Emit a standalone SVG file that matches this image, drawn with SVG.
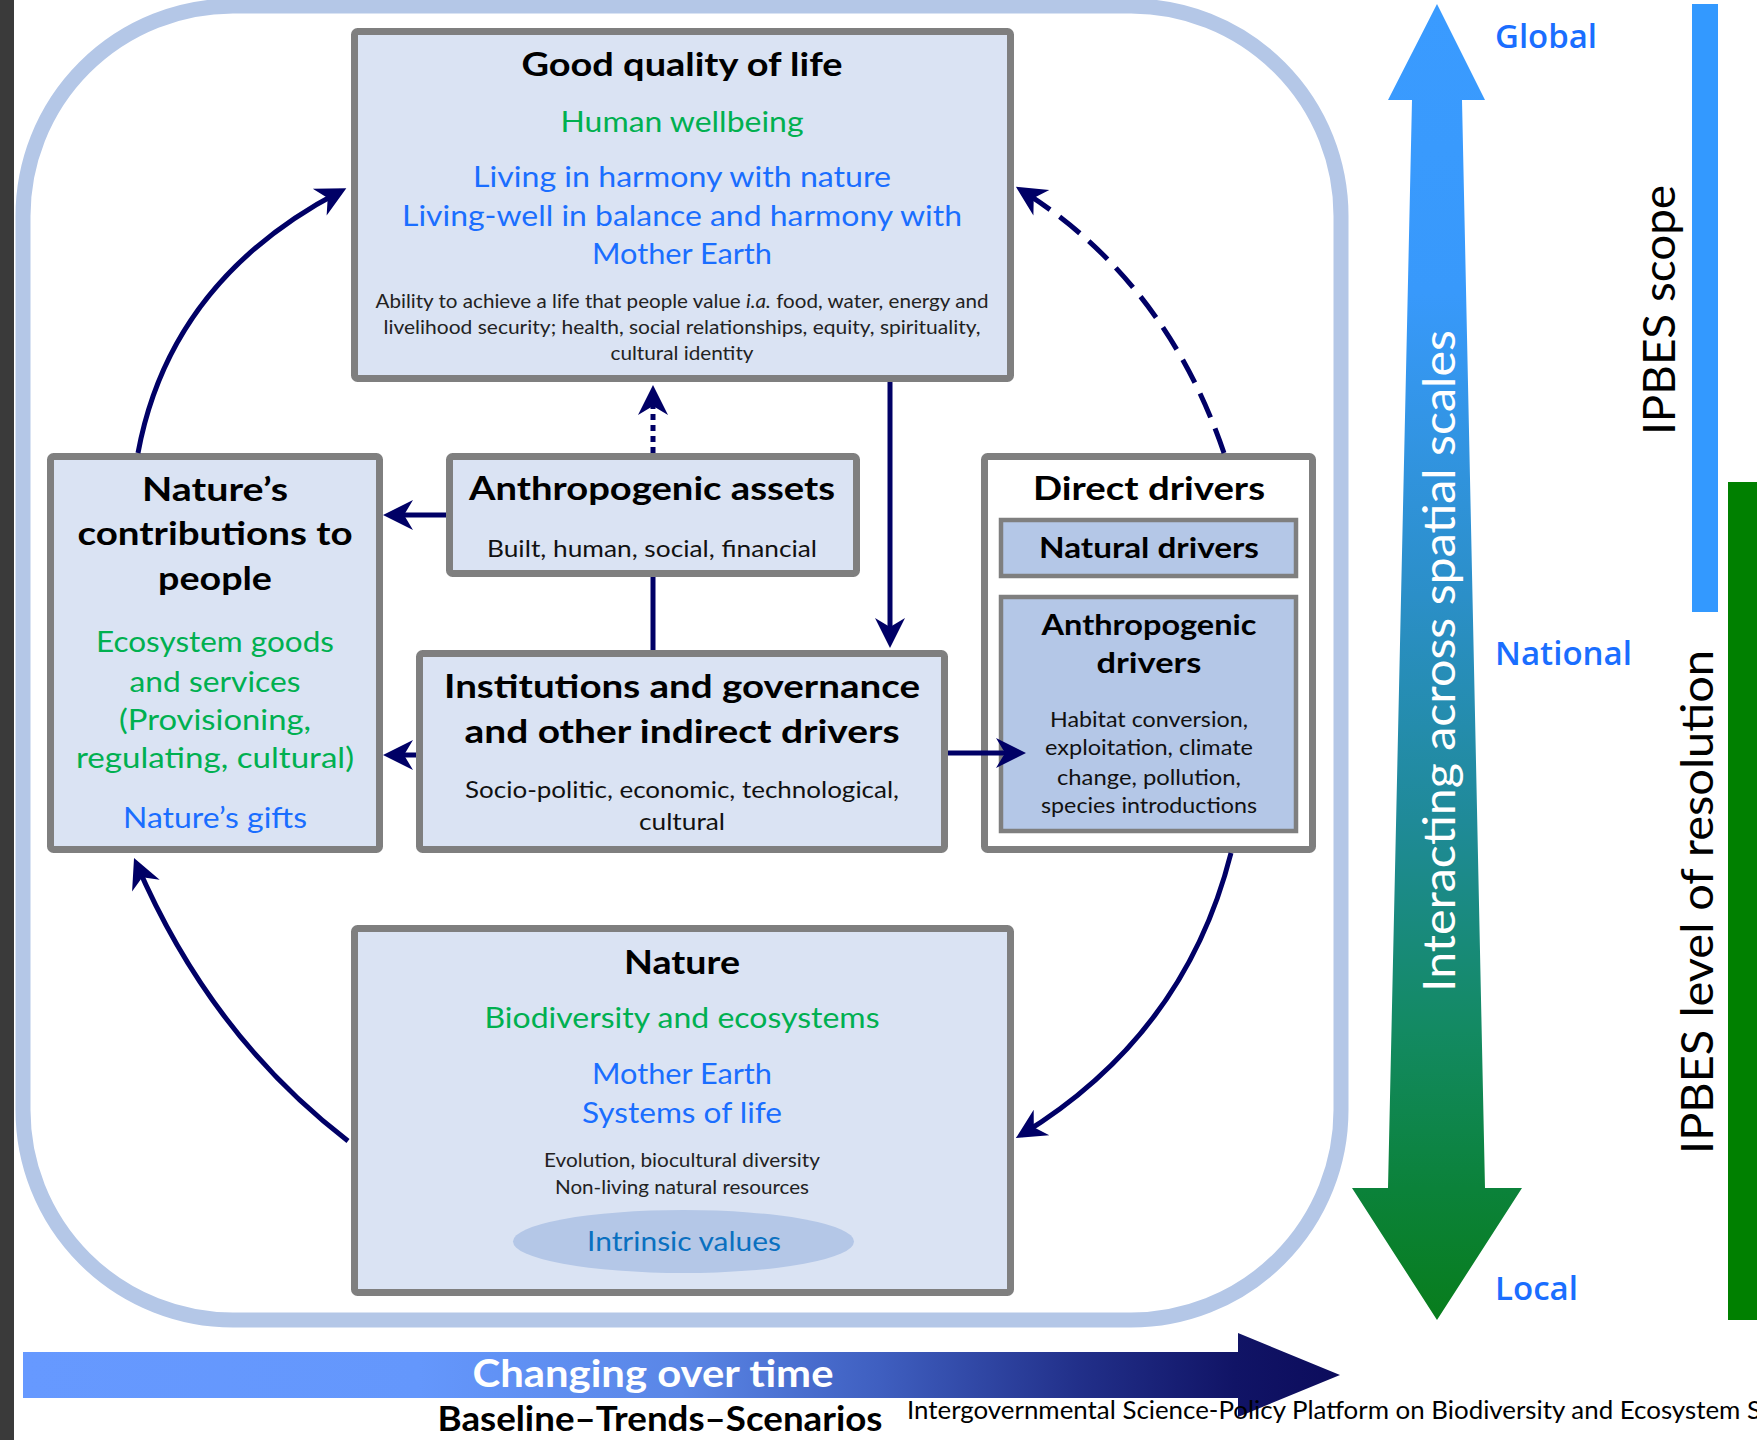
<svg xmlns="http://www.w3.org/2000/svg" width="1757" height="1440" viewBox="0 0 1757 1440">
<style>
text{font-family:Lato,"Open Sans","Liberation Sans",sans-serif;text-anchor:middle}
.box{fill:#dae3f3;stroke:#7f7f7f;stroke-width:7}
.inner{fill:#b4c7e7;stroke:#7f7f7f;stroke-width:4.5}
.t{font-weight:700;font-size:33px;fill:#000}
.t2{font-weight:700;font-size:28px;fill:#000}
.g{font-size:28px;fill:#00b050}
.b{font-size:28px;fill:#1a6eff}
.s{font-size:19px;fill:#222}
.m{font-size:24px;fill:#111}
.d{font-size:21px;fill:#111}
.con{fill:none;stroke:#000066;stroke-width:5}
.scale{font-family:"Open Sans",Lato,sans-serif;font-weight:600;font-size:32px;fill:#1a6eff;text-anchor:start}
.vt{font-size:44px}
</style>
<defs>
<linearGradient id="vg" x1="0" y1="0" x2="0" y2="1">
<stop offset="0" stop-color="#3a9bff"/>
<stop offset="0.22" stop-color="#3899fb"/>
<stop offset="0.45" stop-color="#2b8fc8"/>
<stop offset="0.62" stop-color="#1f8a98"/>
<stop offset="0.78" stop-color="#138a62"/>
<stop offset="0.9" stop-color="#0b823a"/>
<stop offset="1" stop-color="#087d1c"/>
</linearGradient>
<linearGradient id="hg" x1="0" y1="0" x2="1" y2="0">
<stop offset="0" stop-color="#6699ff"/>
<stop offset="0.3" stop-color="#6497fc"/>
<stop offset="0.5" stop-color="#5a86e6"/>
<stop offset="0.65" stop-color="#3f5fc0"/>
<stop offset="0.8" stop-color="#22308a"/>
<stop offset="0.92" stop-color="#111466"/>
<stop offset="1" stop-color="#0c0c5c"/>
</linearGradient>
<marker id="ah" markerUnits="userSpaceOnUse" markerWidth="40" markerHeight="40" viewBox="-30 -20 40 40" refX="0" refY="0" orient="auto" overflow="visible">
<path d="M6,0 L-24,-15 L-15,0 L-24,15 Z" fill="#000066" stroke="none"/>
</marker>
</defs>

<rect x="0" y="0" width="1757" height="1440" fill="#ffffff"/>
<rect x="0" y="0" width="14" height="1440" fill="#3a3a3a"/>
<rect id="frame" x="23" y="6" width="1318" height="1314" rx="210" ry="210" fill="none" stroke="#b4c7e7" stroke-width="15"/>

<g id="node-quality">
<rect class="box" x="354.5" y="31.5" width="656" height="347" rx="3"/>
<text class="t" x="682" y="76" textLength="321" lengthAdjust="spacingAndGlyphs">Good quality of life</text>
<text class="g" x="682" y="132" textLength="243" lengthAdjust="spacingAndGlyphs">Human wellbeing</text>
<text class="b" x="682" y="187" textLength="418" lengthAdjust="spacingAndGlyphs">Living in harmony with nature</text>
<text class="b" x="682" y="226" textLength="560" lengthAdjust="spacingAndGlyphs">Living-well in balance and harmony with</text>
<text class="b" x="682" y="264" textLength="180" lengthAdjust="spacingAndGlyphs">Mother Earth</text>
<text class="s" x="682" y="308" textLength="613" lengthAdjust="spacingAndGlyphs">Ability to achieve a life that people value <tspan font-style="italic">i.a.</tspan> food, water, energy and</text>
<text class="s" x="682" y="334" textLength="597" lengthAdjust="spacingAndGlyphs">livelihood security; health, social relationships, equity, spirituality,</text>
<text class="s" x="682" y="360" textLength="143" lengthAdjust="spacingAndGlyphs">cultural identity</text>
</g>

<g id="node-ncp">
<rect class="box" x="50.5" y="456.5" width="329" height="393" rx="3"/>
<text class="t" x="215" y="501" textLength="146" lengthAdjust="spacingAndGlyphs">Nature’s</text>
<text class="t" x="215" y="545" textLength="275" lengthAdjust="spacingAndGlyphs">contributions to</text>
<text class="t" x="215" y="590" textLength="114" lengthAdjust="spacingAndGlyphs">people</text>
<text class="g" x="215" y="652" textLength="238" lengthAdjust="spacingAndGlyphs">Ecosystem goods</text>
<text class="g" x="215" y="692" textLength="171" lengthAdjust="spacingAndGlyphs">and services</text>
<text class="g" x="215" y="730" textLength="192" lengthAdjust="spacingAndGlyphs">(Provisioning,</text>
<text class="g" x="215" y="768" textLength="278" lengthAdjust="spacingAndGlyphs">regulating, cultural)</text>
<text class="b" x="215" y="828" textLength="184" lengthAdjust="spacingAndGlyphs">Nature’s gifts</text>
</g>

<g id="node-assets">
<rect class="box" x="449.5" y="456.5" width="407" height="117" rx="3"/>
<text class="t" x="652" y="500" textLength="366" lengthAdjust="spacingAndGlyphs">Anthropogenic assets</text>
<text class="m" x="652" y="557" textLength="330" lengthAdjust="spacingAndGlyphs">Built, human, social, financial</text>
</g>

<g id="node-institutions">
<rect class="box" x="419.5" y="653.5" width="525" height="196" rx="3"/>
<text class="t" x="682" y="698" textLength="476" lengthAdjust="spacingAndGlyphs">Institutions and governance</text>
<text class="t" x="682" y="743" textLength="435" lengthAdjust="spacingAndGlyphs">and other indirect drivers</text>
<text class="m" x="682" y="798" textLength="434" lengthAdjust="spacingAndGlyphs">Socio-politic, economic, technological,</text>
<text class="m" x="682" y="830" textLength="86" lengthAdjust="spacingAndGlyphs">cultural</text>
</g>

<g id="node-direct">
<rect x="984.5" y="456.5" width="328" height="393" rx="3" fill="#ffffff" stroke="#7f7f7f" stroke-width="7"/>
<text class="t" x="1149" y="500" textLength="232" lengthAdjust="spacingAndGlyphs">Direct drivers</text>
<g id="node-natural">
<rect class="inner" x="1001" y="520" width="295" height="56"/>
<text class="t2" x="1149" y="558" textLength="220" lengthAdjust="spacingAndGlyphs">Natural drivers</text>
</g>
<g id="node-anthdrivers">
<rect class="inner" x="1001" y="597" width="295" height="234"/>
<text class="t2" x="1149" y="635" textLength="215" lengthAdjust="spacingAndGlyphs">Anthropogenic</text>
<text class="t2" x="1149" y="673" textLength="105" lengthAdjust="spacingAndGlyphs">drivers</text>
<text class="d" x="1149" y="727" textLength="198" lengthAdjust="spacingAndGlyphs">Habitat conversion,</text>
<text class="d" x="1149" y="755" textLength="208" lengthAdjust="spacingAndGlyphs">exploitation, climate</text>
<text class="d" x="1149" y="785" textLength="184" lengthAdjust="spacingAndGlyphs">change, pollution,</text>
<text class="d" x="1149" y="813" textLength="216" lengthAdjust="spacingAndGlyphs">species introductions</text>
</g>
</g>

<g id="node-nature">
<rect class="box" x="354.5" y="928.5" width="656" height="364" rx="3"/>
<text class="t" x="682" y="974" textLength="116" lengthAdjust="spacingAndGlyphs">Nature</text>
<text class="g" x="682" y="1028" textLength="395" lengthAdjust="spacingAndGlyphs">Biodiversity and ecosystems</text>
<text class="b" x="682" y="1084" textLength="180" lengthAdjust="spacingAndGlyphs">Mother Earth</text>
<text class="b" x="682" y="1123" textLength="200" lengthAdjust="spacingAndGlyphs">Systems of life</text>
<text class="s" x="682" y="1167" textLength="276" lengthAdjust="spacingAndGlyphs">Evolution, biocultural diversity</text>
<text class="s" x="682" y="1194" textLength="254" lengthAdjust="spacingAndGlyphs">Non-living natural resources</text>
<ellipse cx="683.5" cy="1241.5" rx="170.5" ry="31.5" fill="#b4c7e7"/>
<text x="684" y="1251" font-size="27" fill="#0a70c0" textLength="194" lengthAdjust="spacingAndGlyphs">Intrinsic values</text>
</g>

<g id="connectors">
<path class="con" d="M138,453 Q170,280 341,191" marker-end="url(#ah)"/>
<path class="con" d="M1224,453 Q1165,280 1021,190" stroke-dasharray="26 12" stroke-width="5.5" marker-end="url(#ah)"/>
<path class="con" d="M1231,853 Q1185,1035 1021,1135" marker-end="url(#ah)"/>
<path class="con" d="M348,1141 Q210,1035 136.4,863.5" marker-end="url(#ah)"/>
<path class="con" d="M653,453 V391" stroke-dasharray="6 5" stroke-width="6" marker-end="url(#ah)"/>
<path class="con" d="M446,515 H389" marker-end="url(#ah)"/>
<path class="con" d="M416,755 H389" marker-end="url(#ah)"/>
<path class="con" d="M948,753 H1020" marker-end="url(#ah)"/>
<path class="con" d="M890,382 V642" marker-end="url(#ah)"/>
<path class="con" d="M653,577 V650"/>
</g>

<g id="scale-arrow">
<path d="M1437,4 L1485,100 L1462,100 L1485,1188 L1522,1188 L1437,1320 L1352,1188 L1388,1188 L1412,100 L1388,100 Z" fill="url(#vg)"/>
<text class="vt" transform="translate(1455,661) rotate(-90)" fill="#ffffff" textLength="662" lengthAdjust="spacingAndGlyphs">Interacting across spatial scales</text>
</g>
<g id="scale-labels">
<text class="scale" x="1495" y="48" textLength="102" lengthAdjust="spacingAndGlyphs">Global</text>
<text class="scale" x="1495" y="665" textLength="137" lengthAdjust="spacingAndGlyphs">National</text>
<text class="scale" x="1495" y="1300" textLength="83" lengthAdjust="spacingAndGlyphs">Local</text>
</g>
<g id="ipbes-bars">
<rect x="1692" y="4" width="26" height="608" fill="#3399ff"/>
<rect x="1728" y="482" width="29" height="838" fill="#008000"/>
<text class="vt" transform="translate(1675,310) rotate(-90)" fill="#000" textLength="250" lengthAdjust="spacingAndGlyphs">IPBES scope</text>
<text class="vt" transform="translate(1713,902) rotate(-90)" fill="#000" textLength="504" lengthAdjust="spacingAndGlyphs">IPBES level of resolution</text>
</g>

<g id="time-arrow">
<path d="M23,1352 H1238 V1333 L1340,1375 L1238,1417 V1398 H23 Z" fill="url(#hg)"/>
<text x="653" y="1387" font-size="38" font-weight="700" fill="#ffffff" textLength="361" lengthAdjust="spacingAndGlyphs">Changing over time</text>
<text x="660" y="1431" font-size="34" font-weight="700" fill="#000" textLength="445" lengthAdjust="spacingAndGlyphs">Baseline–Trends–Scenarios</text>
</g>
<text x="907" y="1419" font-size="25" fill="#000" style="text-anchor:start" textLength="854" lengthAdjust="spacingAndGlyphs">Intergovernmental Science-Policy Platform on Biodiversity and Ecosystem S</text>
</svg>
